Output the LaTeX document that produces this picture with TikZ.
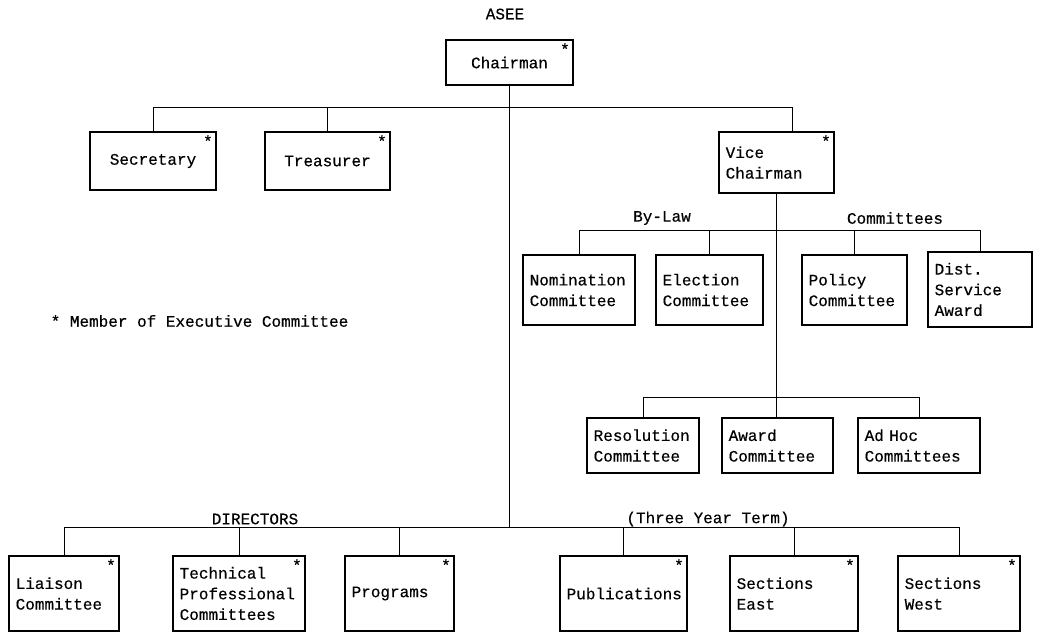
\documentclass[tikz,border=0pt]{standalone}
\usepackage{fontspec}
\newfontfamily\orgfont[FakeBold=0.4]{Liberation Mono}

\begin{document}
\begin{tikzpicture}
  [x=0.75pt,y=-0.75pt,
   every node/.style={font=\orgfont\fontsize{12}{15.5}\selectfont},
   box/.style 2 args={draw,line width=1.5pt,align=left,inner xsep=5pt,inner ysep=2pt,
     /utils/exec={\pgfmathsetlengthmacro\boxtw{#1*0.75pt-10pt}},
     text width=\boxtw,minimum width=#1*0.75pt,minimum height=#2*0.75pt},
   exec/.style={label={[anchor=north east,inner sep=3pt]north east:*}},
   wire/.style={line width=0.6pt}]
  \useasboundingbox (0,0) rectangle (1042,633);

  % top of the chart
  \node (asee) at (505,14) {ASEE};
  \node (chair)[box={127}{45},exec,align=center] at (509.5,62.5) {Chairman};
  \node (secy)[box={126}{58},exec,align=center]  at (153,161)    {Secretary};
  \node (treas)[box={125}{58},exec,align=center] at (327.5,161)  {Treasurer};
  \node (vice)[box={115}{61},exec]  at (776.5,162.5){Vice\\Chairman};

  % committees under the vice chairman
  \node (bylaw) at (662,218) {By-Law};
  \node (comms) at (895,218) {Committees};
  \node (nom)[box={112}{70}]    at (579,290)   {Nomination\\Committee};
  \node (elec)[box={107}{70}]   at (709.5,290) {Election\\Committee};
  \node (policy)[box={105}{70}] at (854.5,290) {Policy\\Committee};
  \node (dist)[box={104}{75}]   at (980,289.5) {Dist.\\Service\\Award};

  \node (resol)[box={112}{55}] at (643,445.5)   {Resolution\\Committee};
  \node (award)[box={111}{55}] at (777.5,445.5) {Award\\Committee};
  \node (adhoc)[box={122}{55}] at (919,445.5)   {Ad Hoc\\Committees};

  \node (note)[anchor=west] at (46,321) {* Member of Executive Committee};

  % directors
  \node (dirs) at (255,519) {DIRECTORS};
  \node (term) at (708,519) {(Three Year Term)};
  \node (liaison)[box={110}{75},exec] at (64,593.5)    {Liaison\\Committee};
  \node (tech)[box={132}{75},exec]    at (239,593.5)   {Technical\\Professional\\Committees};
  \node (prog)[box={109}{75},exec]    at (399.5,593.5) {Programs};
  \node (pubs)[box={127}{75},exec]    at (623.5,593.5) {Publications};
  \node (east)[box={128}{75},exec]    at (794,593.5)   {Sections\\East};
  \node (west)[box={122}{75},exec]    at (959,593.5)   {Sections\\West};

  \coordinate (topbus) at (0,107);
  \coordinate (lawbus) at (0,230);
  \coordinate (adbus)  at (0,397);
  \coordinate (dirbus) at (0,527);

  \draw[wire] (chair.south) -- (chair.south |- dirbus);
  \draw[wire] (secy.north) |- ([xshift=12pt]vice.north |- topbus) -- ([xshift=12pt]vice.north);
  \draw[wire] (treas.north) -- (treas.north |- topbus);

  \draw[wire] (vice.south) -- (vice.south |- award.north);
  \draw[wire] (nom.north) |- (dist.north |- lawbus) -- (dist.north);
  \foreach \b in {elec,policy}
    \draw[wire] (\b.north) -- (\b.north |- lawbus);
  \draw[wire] (resol.north) |- (adhoc.north |- adbus) -- (adhoc.north);

  \draw[wire] (liaison.north) |- (west.north |- dirbus) -- (west.north);
  \foreach \b in {tech,prog,pubs,east}
    \draw[wire] (\b.north) -- (\b.north |- dirbus);
\end{tikzpicture}
\end{document}
